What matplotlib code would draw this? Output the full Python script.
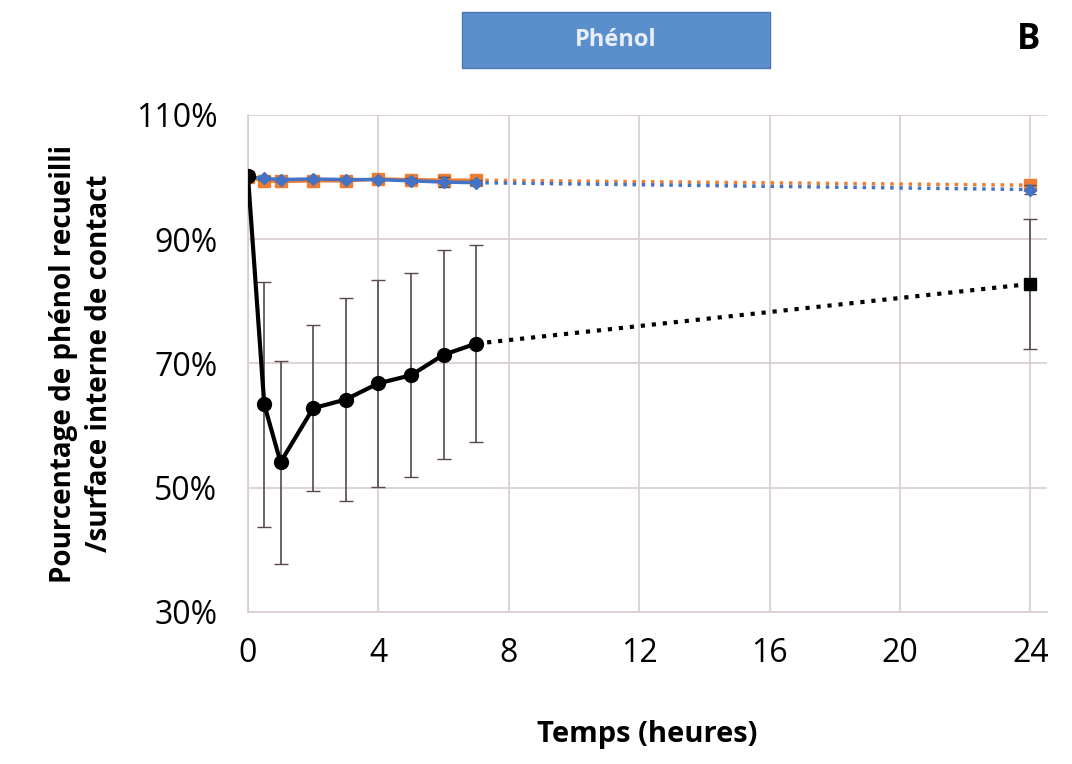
import matplotlib
matplotlib.use("Agg")
import matplotlib.pyplot as plt
from matplotlib.patches import Rectangle

# data
hours = [0, 0.5, 1, 2, 3, 4, 5, 6, 7]
hours_24 = [7, 24]

black = [100.2, 63.4, 54.1, 62.8, 64.2, 66.8, 68.1, 71.4, 73.2]
black_err = [0, 19.7, 16.3, 13.4, 16.4, 16.7, 16.4, 16.8, 15.9]
black_24 = [73.2, 82.8]
black_24_err = [0, 10.4]

orange = [100.0, 99.4, 99.3, 99.4, 99.4, 99.7, 99.6, 99.5, 99.5]
orange_err = [0, 0.3, 0.3, 0.3, 0.3, 0.2, 0.3, 0.3, 0.3]
orange_24 = [99.5, 98.7]
orange_24_err = [0, 0.4]

blue = [100.0, 99.8, 99.6, 99.7, 99.6, 99.6, 99.4, 99.2, 99.1]
blue_err = [0, 0.3, 0.3, 0.3, 0.3, 0.3, 0.4, 0.8, 0.4]
blue_24 = [99.1, 98.0]
blue_24_err = [0, 0.8]

x_ticks = [0, 4, 8, 12, 16, 20, 24]
y_ticks = [30, 50, 70, 90, 110]

plt.rcParams['font.family'] = ['Open Sans', 'DejaVu Sans']

fig = plt.figure(figsize=(10.72, 7.64), dpi=100)
ax = fig.add_axes([0.2313, 0.199, 0.745, 0.6505])

err_col = '#5a4848'
grid_col = '#d8cccc'

# orange series
ax.errorbar(hours, orange, yerr=orange_err, color='#ed7d31', marker='s', markersize=8,
            lw=2.5, ecolor=err_col, elinewidth=1, capsize=4, zorder=3)
ax.errorbar(hours_24, orange_24, yerr=orange_24_err, color='#ed7d31', marker='s', markersize=8,
            lw=2.5, ls=':', ecolor=err_col, elinewidth=1, capsize=4, zorder=3, markevery=[1])
# blue series
ax.errorbar(hours, blue, yerr=blue_err, color='#4472c4', marker='D', markersize=6,
            lw=2.5, ecolor=err_col, elinewidth=1, capsize=4, zorder=4)
ax.errorbar(hours_24, blue_24, yerr=blue_24_err, color='#4472c4', marker='D', markersize=6,
            lw=2.5, ls=':', ecolor=err_col, elinewidth=1, capsize=4, zorder=4, markevery=[1])
# black series
ax.errorbar(hours, black, yerr=black_err, color='black', marker='o', markersize=10,
            lw=3, ecolor=err_col, elinewidth=1.2, capsize=5, zorder=5)
ax.errorbar(hours_24, black_24, yerr=black_24_err, color='black', marker='s', markersize=8,
            lw=3, ls=':', ecolor=err_col, elinewidth=1.2, capsize=5, zorder=5, markevery=[1])

ax.set_xlim(0, 24.5)
ax.set_ylim(30, 110)
ax.set_xticks(x_ticks)
ax.set_yticks(y_ticks)
ax.set_yticklabels([f"{v}%" for v in y_ticks])
ax.tick_params(labelsize=23, length=0)
ax.tick_params(axis='y', pad=22)
ax.tick_params(axis='x', pad=18)
ax.grid(True, color=grid_col, lw=1.2)
ax.set_axisbelow(True)
for s in ['top', 'right']:
    ax.spines[s].set_visible(False)
ax.spines['left'].set_color(grid_col)
ax.spines['bottom'].set_color(grid_col)
ax.spines['left'].set_linewidth(1.2)
ax.spines['bottom'].set_linewidth(1.2)

ax.set_xlabel('Temps (heures)', fontsize=21, fontweight='bold', labelpad=36)
ax.set_ylabel('Pourcentage de phénol recueilli\n/surface interne de contact',
              fontsize=20, fontweight='bold', labelpad=16, linespacing=1.3)

# title box
fig.patches.append(Rectangle((462 / 1072, 1 - 68 / 764), 308 / 1072, 56 / 764,
                             transform=fig.transFigure, facecolor='#5b8fcc',
                             edgecolor='#4a78b0', lw=1))
fig.text(616 / 1072, 1 - 40 / 764, 'Phénol', ha='center', va='center',
         fontsize=17, fontweight='bold', color='#e8eef8')
fig.text(1029 / 1072, 1 - 40 / 764, 'B', ha='center', va='center',
         fontsize=25, fontweight='bold', color='black')

fig.savefig('out.png', dpi=100)
